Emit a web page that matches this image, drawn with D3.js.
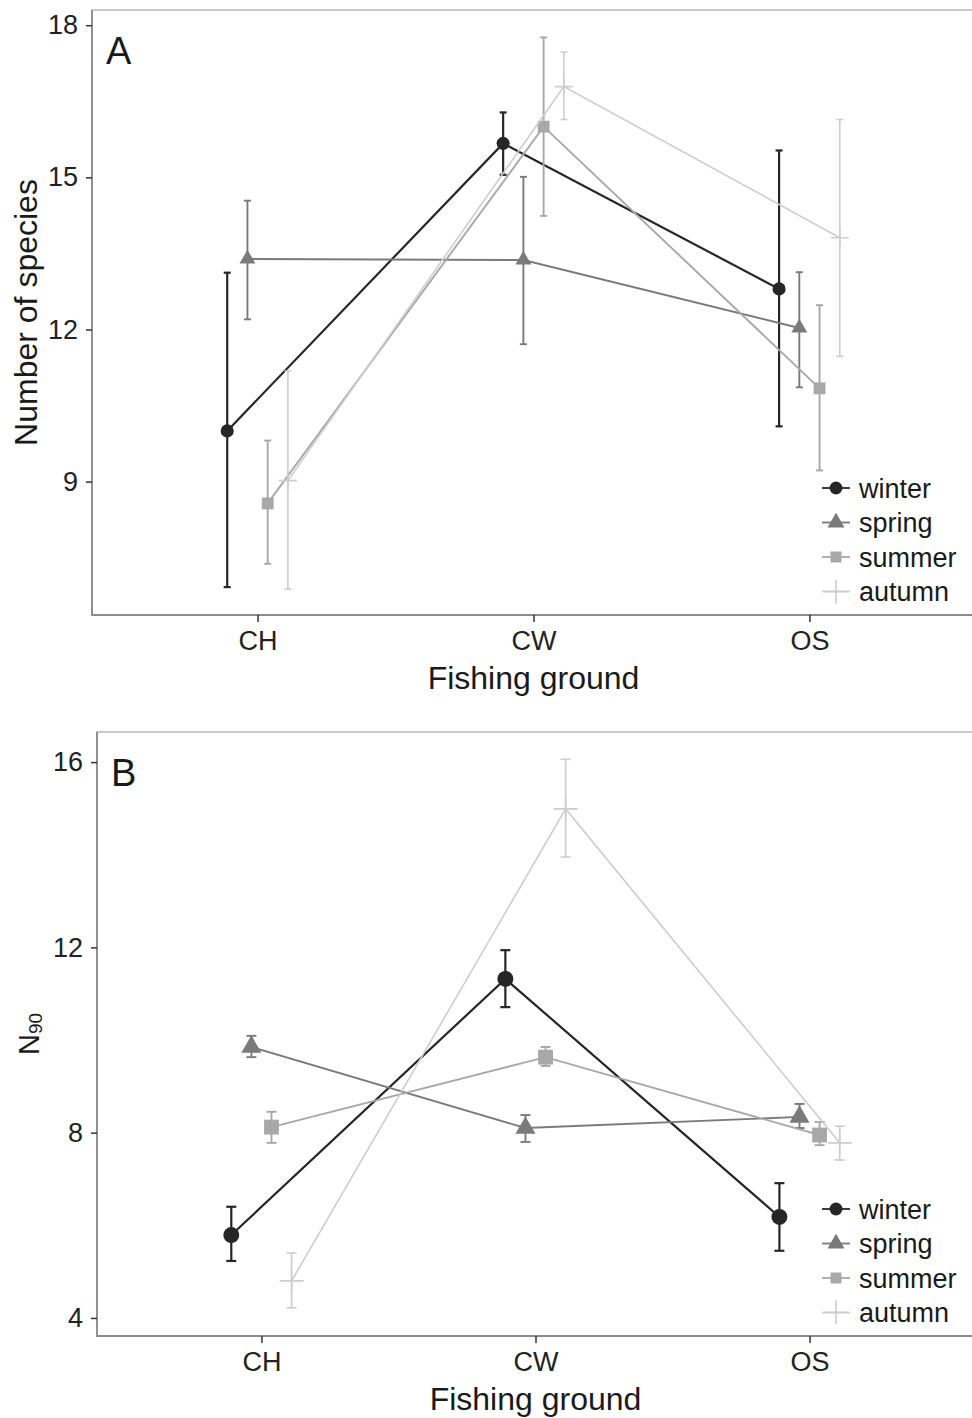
<!DOCTYPE html>
<html>
<head>
<meta charset="utf-8">
<style>
body { margin: 0; background: #fff; }
svg text { font-family: "Liberation Sans", Arial, sans-serif; fill: #1a1a1a; }
.axis .tick text { font-size: 27px; fill: #222; }
.axis .tick line { stroke: #333; stroke-width: 1.5; }
.axis .domain { display: none; }
.legend text { font-size: 27px; }
</style>
<script src="https://d3js.org/d3.v7.min.js"></script>
</head>
<body>
<svg width="972" height="1418"></svg>
<script>
var grounds = ["CH", "CW", "OS"];
var seasons = ["winter", "spring", "summer", "autumn"];
var colors = ["#262626", "#7a7a7a", "#a8a8a8", "#cdcdcd"];
var shapes = ["circle", "triangle", "square", "cross"];

// panel A : number of species (rows = seasons, cols = grounds)
var ticksA = [9, 12, 15, 18];
var meanA = [[10.0, 15.67, 12.8], [13.39, 13.37, 12.03], [8.57, 16.0, 10.84], [9.02, 16.79, 13.81]];
var lowA  = [[6.92, 15.05, 10.09], [12.2, 11.71, 10.86], [7.38, 14.24, 9.22], [6.88, 16.14, 11.47]];
var highA = [[13.12, 16.28, 15.53], [14.54, 15.01, 13.13], [9.81, 17.76, 12.48], [11.18, 17.47, 16.14]];

// panel B : N90
var ticksB = [4, 8, 12, 16];
var meanB = [[5.79, 11.32, 6.18], [9.85, 8.10, 8.34], [8.12, 9.63, 7.95], [4.80, 14.99, 7.78]];
var lowB  = [[5.23, 10.71, 5.45], [9.63, 7.80, 8.10], [7.78, 9.44, 7.73], [4.22, 13.95, 7.41]];
var highB = [[6.40, 11.94, 6.91], [10.09, 8.38, 8.62], [8.45, 9.85, 8.23], [5.40, 16.06, 8.14]];

var svg = d3.select("svg");

function marker(sel, shape, s, color) {
    if (shape == "cross") {
        sel.append("path")
            .attr("d", "M" + (-s.cross) + ",0H" + s.cross + "M0," + (-s.cross) + "V" + s.cross)
            .attr("stroke", color).attr("stroke-width", 1.6).attr("fill", "none");
        return;
    }
    var type = shape == "circle" ? d3.symbolCircle : shape == "triangle" ? d3.symbolTriangle : d3.symbolSquare;
    sel.append("path")
        .attr("d", d3.symbol().type(type).size(s[shape]))
        .attr("fill", color);
}

function drawPanel(p) {
    var g = svg.append("g");

    var x = d3.scalePoint().domain(grounds).range([p.left, p.right]).padding(0.6);
    var y = d3.scaleLinear().domain(p.ydom).range([p.bottom, p.top]);
    var dodge = d3.scalePoint().domain(seasons).range([-0.11 * x.step(), 0.11 * x.step()]);

    // border: light on top, darker along the axes
    g.append("rect")
        .attr("x", p.left).attr("y", p.top)
        .attr("width", p.right - p.left).attr("height", p.bottom - p.top)
        .attr("fill", "none").attr("stroke", "#bdbdbd").attr("stroke-width", 1.6);
    g.append("path")
        .attr("d", "M" + p.left + "," + p.top + "V" + p.bottom + "H" + p.right)
        .attr("fill", "none").attr("stroke", "#8c8c8c").attr("stroke-width", 1.8);

    // axes
    g.append("g").attr("class", "axis")
        .attr("transform", "translate(" + p.left + ",0)")
        .call(d3.axisLeft(y).tickValues(p.ticks).tickSize(6).tickPadding(8));
    g.append("g").attr("class", "axis")
        .attr("transform", "translate(0," + p.bottom + ")")
        .call(d3.axisBottom(x).tickSize(7).tickPadding(9));

    g.append("text")
        .attr("x", x("CW")).attr("y", p.bottom + 74)
        .attr("text-anchor", "middle").attr("font-size", 32)
        .text("Fishing ground");

    p.ytitle(g, (p.top + p.bottom) / 2);

    g.append("text")
        .attr("x", p.left + 14).attr("y", p.top + 54)
        .attr("font-size", 38).attr("font-family", "Open Sans, sans-serif")
        .text(p.label);

    seasons.forEach(function(season, i) {
        var pts = grounds.map(function(gr, j) {
            return { x: x(gr) + dodge(season), m: p.mean[i][j], lo: p.low[i][j], hi: p.high[i][j] };
        });
        var col = colors[i];
        var lw = i == 0 ? 2.2 : (i == 3 ? 1.6 : 1.9);

        g.append("path")
            .datum(pts)
            .attr("d", d3.line().x(function(d) { return d.x; }).y(function(d) { return y(d.m); }))
            .attr("fill", "none").attr("stroke", col).attr("stroke-width", lw);

        var eb = g.selectAll(null).data(pts).enter().append("g");
        eb.append("line")
            .attr("x1", function(d) { return d.x; }).attr("x2", function(d) { return d.x; })
            .attr("y1", function(d) { return y(d.lo); }).attr("y2", function(d) { return y(d.hi); })
            .attr("stroke", col).attr("stroke-width", lw);
        ["lo", "hi"].forEach(function(k) {
            eb.append("line")
                .attr("x1", function(d) { return d.x - p.cap; }).attr("x2", function(d) { return d.x + p.cap; })
                .attr("y1", function(d) { return y(d[k]); }).attr("y2", function(d) { return y(d[k]); })
                .attr("stroke", col).attr("stroke-width", lw);
        });

        pts.forEach(function(d) {
            var m = g.append("g").attr("transform", "translate(" + d.x + "," + y(d.m) + ")");
            marker(m, shapes[i], p.sym, col);
        });

        // legend
        var ly = p.bottom - 127 + i * 34.5;
        var lg = g.append("g").attr("class", "legend").attr("transform", "translate(822," + ly + ")");
        lg.append("line").attr("x1", 0).attr("x2", 28).attr("y1", 0).attr("y2", 0)
            .attr("stroke", col).attr("stroke-width", 1.8);
        var lm = lg.append("g").attr("transform", "translate(14,0)");
        marker(lm, shapes[i], { circle: 130, triangle: 125, square: 120, cross: 12 }, col);
        lg.append("text").attr("x", 37).attr("y", 9.5).text(season);
    });
}

drawPanel({
    left: 92, right: 975, top: 10, bottom: 615,
    ydom: [6.37, 18.3], ticks: ticksA,
    mean: meanA, low: lowA, high: highA,
    label: "A", cap: 3.5,
    sym: { circle: 135, triangle: 110, square: 140, cross: 9 },
    ytitle: function(g, cy) {
        g.append("text")
            .attr("transform", "translate(37," + cy + ") rotate(-90)")
            .attr("text-anchor", "middle").attr("font-size", 32)
            .text("Number of species");
    }
});

drawPanel({
    left: 97, right: 974, top: 732, bottom: 1336,
    ydom: [3.61, 16.65], ticks: ticksB,
    mean: meanB, low: lowB, high: highB,
    label: "B", cap: 5,
    sym: { circle: 200, triangle: 175, square: 220, cross: 12 },
    ytitle: function(g, cy) {
        var t = g.append("text")
            .attr("transform", "translate(39," + cy + ") rotate(-90)")
            .attr("text-anchor", "middle").attr("font-size", 29);
        t.append("tspan").text("N");
        t.append("tspan").attr("font-size", 19).attr("dy", 3).text("90");
    }
});
</script>
</body>
</html>
